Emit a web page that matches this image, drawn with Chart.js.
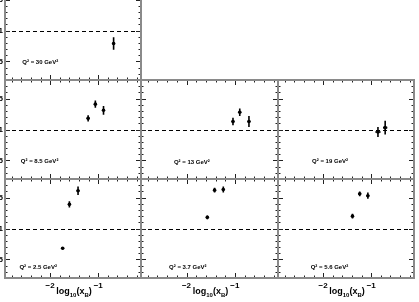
<!DOCTYPE html>
<html>
<head>
<meta charset="utf-8">
<script src="https://cdn.jsdelivr.net/npm/chart.js@4.4.1/dist/chart.umd.min.js"></script>
<style>
  html, body { margin: 0; padding: 0; background: #fff; }
  body { width: 419px; height: 302px; position: relative; overflow: hidden; }
  .pad { position: absolute; }
</style>
</head>
<body>
<script>
// axis ranges and tick labels (log10(xB) on x, ratio on y)
const xRange = [-2.94, -0.11];
const yRange = [0.2, 1.8];
const xTickLabels = [-2, -1];
const yTickLabels = [0.5, 1, 1.5];
const xMinorStep = 0.2;
const yMinorStep = 0.1;
const refLine = 1;

// Q2 = 30 GeV2
const xQ30 = [-0.68];
const yQ30 = [0.79];
const eyQ30 = [0.10];
const exQ30 = [0.03];

// Q2 = 8.5 GeV2
const xQ8_5 = [-1.21, -1.06, -0.89];
const yQ8_5 = [1.18, 1.41, 1.31];
const eyQ8_5 = [0.05, 0.06, 0.07];
const exQ8_5 = [0.03, 0.03, 0.03];

// Q2 = 13 GeV2
const xQ13 = [-1.04, -0.90, -0.71];
const yQ13 = [1.13, 1.28, 1.13];
const eyQ13 = [0.06, 0.06, 0.09];
const exQ13 = [0.03, 0.03, 0.03];

// Q2 = 19 GeV2
const xQ19 = [-0.86, -0.71];
const yQ19 = [0.96, 1.03];
const eyQ19 = [0.08, 0.11];
const exQ19 = [0.055, 0.045];

// Q2 = 2.5 GeV2
const xQ2_5 = [-1.74, -1.60, -1.42];
const yQ2_5 = [0.68, 1.39, 1.61];
const eyQ2_5 = [0.02, 0.05, 0.07];
const exQ2_5 = [0.03, 0.03, 0.03];

// Q2 = 3.7 GeV2
const xQ3_7 = [-1.57, -1.42, -1.24];
const yQ3_7 = [1.18, 1.62, 1.63];
const eyQ3_7 = [0.03, 0.04, 0.05];
const exQ3_7 = [0.03, 0.03, 0.03];

// Q2 = 5.6 GeV2
const xQ5_6 = [-1.39, -1.24, -1.07];
const yQ5_6 = [1.20, 1.56, 1.53];
const eyQ5_6 = [0.04, 0.04, 0.05];
const exQ5_6 = [0.03, 0.03, 0.03];

// pad grid on the page (px)
const colLeft = [5, 141, 278];
const colRight = [141, 278, 414];
const rowTop = [-19, 80, 179];
const rowBottom = [80, 179, 278];
const edge = 3;

Chart.defaults.font.family = "'Liberation Sans', Arial, sans-serif";
Chart.defaults.color = "#000";

const panels = [
  { row: 0, col: 0, q2: "30", xs: xQ30, ys: yQ30, eys: eyQ30, exs: exQ30, tag: [-2.58, 0.48] },
  { row: 1, col: 0, q2: "8.5", xs: xQ8_5, ys: yQ8_5, eys: eyQ8_5, exs: exQ8_5, tag: [-2.61, 0.49] },
  { row: 1, col: 1, q2: "13", xs: xQ13, ys: yQ13, eys: eyQ13, exs: exQ13, tag: [-2.26, 0.47] },
  { row: 1, col: 2, q2: "19", xs: xQ19, ys: yQ19, eys: eyQ19, exs: exQ19, tag: [-2.23, 0.49] },
  { row: 2, col: 0, q2: "2.5", xs: xQ2_5, ys: yQ2_5, eys: eyQ2_5, exs: exQ2_5, tag: [-2.64, 0.38] },
  { row: 2, col: 1, q2: "3.7", xs: xQ3_7, ys: yQ3_7, eys: eyQ3_7, exs: exQ3_7, tag: [-2.36, 0.38] },
  { row: 2, col: 2, q2: "5.6", xs: xQ5_6, ys: yQ5_6, eys: eyQ5_6, exs: exQ5_6, tag: [-2.26, 0.38] },
];

// inward ticks on all four sides, ROOT style
function drawTicks(ctx, a, x, y) {
  ctx.strokeStyle = "#222";
  ctx.lineWidth = 1;
  ctx.beginPath();
  const x0 = Math.ceil(xRange[0] / xMinorStep);
  const x1 = Math.floor(xRange[1] / xMinorStep);
  for (let i = x0; i <= x1; i++) {
    const v = i * xMinorStep;
    const len = i % 5 === 0 ? 5 : 2.5;
    const px = Math.round(x.getPixelForValue(v)) + 0.5;
    ctx.moveTo(px, a.bottom); ctx.lineTo(px, a.bottom - len);
    ctx.moveTo(px, a.top); ctx.lineTo(px, a.top + len);
  }
  const y0 = Math.ceil(yRange[0] / yMinorStep);
  const y1 = Math.floor(yRange[1] / yMinorStep);
  for (let i = y0; i <= y1; i++) {
    const v = i * yMinorStep;
    const len = i % 5 === 0 ? 5 : 2.5;
    const py = Math.round(y.getPixelForValue(v)) + 0.5;
    ctx.moveTo(a.left, py); ctx.lineTo(a.left + len, py);
    ctx.moveTo(a.right, py); ctx.lineTo(a.right - len, py);
  }
  ctx.stroke();
}

// log10(xB) with subscripts
function drawXTitle(ctx, cx, base) {
  const big = "bold 9px 'Liberation Sans', Arial, sans-serif";
  const small = "bold 6px 'Liberation Sans', Arial, sans-serif";
  const parts = [["log", big, 0], ["10", small, 3], ["(x", big, 0], ["B", small, 3], [")", big, 0]];
  let w = 0;
  parts.forEach((p) => { ctx.font = p[1]; w += ctx.measureText(p[0]).width; });
  let px = cx - w / 2;
  ctx.textAlign = "left";
  ctx.textBaseline = "alphabetic";
  parts.forEach((p) => {
    ctx.font = p[1];
    ctx.fillText(p[0], px, base + p[2]);
    px += ctx.measureText(p[0]).width;
  });
}

function makePad(p) {
  const showY = p.col === 0;
  const showX = p.row === 2;
  const L = showY ? 40 : 0;
  const B = showX ? 30 : 0;

  const div = document.createElement("div");
  div.className = "pad";
  div.style.left = colLeft[p.col] - L - edge + "px";
  div.style.top = rowTop[p.row] - edge + "px";
  div.style.width = colRight[p.col] - colLeft[p.col] + L + 2 * edge + "px";
  div.style.height = rowBottom[p.row] - rowTop[p.row] + B + 2 * edge + "px";
  const canvas = document.createElement("canvas");
  div.appendChild(canvas);
  document.body.appendChild(div);

  const padPlugin = {
    id: "rootPad",
    beforeDatasetsDraw(chart) {
      const { ctx, chartArea: a, scales: { x, y } } = chart;
      ctx.save();
      ctx.beginPath();
      ctx.rect(a.left, a.top, a.width, a.height);
      ctx.clip();
      // dashed reference line at 1
      const yr = Math.round(y.getPixelForValue(refLine)) + 0.5;
      ctx.setLineDash([4, 3]);
      ctx.strokeStyle = "#000";
      ctx.lineWidth = 1;
      ctx.beginPath();
      ctx.moveTo(a.left, yr);
      ctx.lineTo(a.right, yr);
      ctx.stroke();
      ctx.setLineDash([]);
      // error bars
      ctx.lineWidth = 1.6;
      ctx.beginPath();
      p.xs.forEach((xv, i) => {
        const px = x.getPixelForValue(xv);
        const py = y.getPixelForValue(p.ys[i]);
        ctx.moveTo(px, y.getPixelForValue(p.ys[i] - p.eys[i]));
        ctx.lineTo(px, y.getPixelForValue(p.ys[i] + p.eys[i]));
        ctx.moveTo(x.getPixelForValue(xv - p.exs[i]), py);
        ctx.lineTo(x.getPixelForValue(xv + p.exs[i]), py);
      });
      ctx.stroke();
      ctx.restore();
    },
    afterDraw(chart) {
      const { ctx, chartArea: a, scales: { x, y } } = chart;
      ctx.save();
      drawTicks(ctx, a, x, y);
      // pad frame
      ctx.strokeStyle = "#8a8a8a";
      ctx.lineWidth = 2;
      ctx.strokeRect(a.left, a.top, a.width, a.height);
      // Q2 tag
      ctx.fillStyle = "#000";
      ctx.font = "bold 6px 'Liberation Sans', Arial, sans-serif";
      ctx.textAlign = "left";
      ctx.textBaseline = "middle";
      ctx.fillText("Q\u00b2 = " + p.q2 + " GeV\u00b2", x.getPixelForValue(p.tag[0]), y.getPixelForValue(p.tag[1]));
      if (showX) drawXTitle(ctx, (a.left + a.right) / 2 + 1, a.bottom + 16);
      ctx.restore();
    },
  };

  return new Chart(canvas, {
    type: "scatter",
    data: {
      datasets: [
        {
          label: "Q2 = " + p.q2,
          data: p.xs.map((xv, i) => ({ x: xv, y: p.ys[i] })),
          backgroundColor: "#000",
          borderColor: "#000",
          pointRadius: 1.8,
          borderWidth: 0,
        },
      ],
    },
    options: {
      responsive: true,
      maintainAspectRatio: false,
      animation: false,
      events: [],
      layout: { padding: edge, autoPadding: false },
      plugins: { legend: { display: false }, tooltip: { enabled: false } },
      scales: {
        x: {
          type: "linear",
          min: xRange[0],
          max: xRange[1],
          display: showX,
          grid: { display: false, drawTicks: false },
          border: { display: false },
          afterBuildTicks: (s) => { s.ticks = xTickLabels.map((v) => ({ value: v })); },
          afterFit: (s) => {
            s.height = B;
            s.paddingLeft = 0;
            s.paddingRight = 0;
          },
          ticks: {
            padding: 3,
            maxRotation: 0,
            font: { size: 8, weight: "bold" },
            callback: (v) => (v < 0 ? "\u2212" + Math.abs(v) : String(v)),
          },
        },
        y: {
          type: "linear",
          min: yRange[0],
          max: yRange[1],
          display: showY,
          grid: { display: false, drawTicks: false },
          border: { display: false },
          afterBuildTicks: (s) => { s.ticks = yTickLabels.map((v) => ({ value: v })); },
          afterFit: (s) => {
            s.width = L;
            s.paddingTop = 0;
            s.paddingBottom = 0;
          },
          ticks: {
            padding: 2,
            font: { size: 8, weight: "bold" },
            callback: (v) => String(v),
          },
        },
      },
    },
    plugins: [padPlugin],
  });
}

panels.forEach(makePad);
</script>
</body>
</html>
